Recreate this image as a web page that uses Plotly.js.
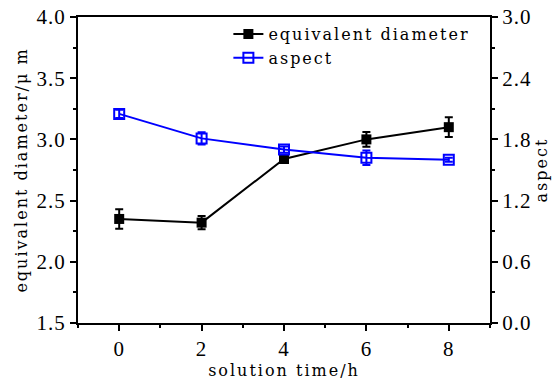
<!DOCTYPE html>
<html>
<head>
<meta charset="utf-8">
<script src="https://cdn.plot.ly/plotly-3.0.1.min.js"></script>
<style>
html,body{margin:0;padding:0;background:#fff;}
#chart{width:555px;height:381px;}
.legendtext, .xtitle, .ytitle, .y2title{letter-spacing:2px;}
.xtick text, .ytick text, .y2tick text{letter-spacing:1px;}
</style>
</head>
<body>
<div id="chart"></div>
<script>
const times = [0, 2, 4, 6, 8];
const diameter = [2.35, 2.32, 2.84, 3.00, 3.10];
const diameterErr = [0.08, 0.055, 0.03, 0.06, 0.08];
const aspect = [2.05, 1.81, 1.70, 1.62, 1.60];
const aspectErr = [0.04, 0.06, 0.03, 0.07, 0.02];
const xTicks = [0, 2, 4, 6, 8];
const yLeftTicks = [1.5, 2.0, 2.5, 3.0, 3.5, 4.0];
const yRightTicks = [0.0, 0.6, 1.2, 1.8, 2.4, 3.0];

const fontFam = 'DejaVu Serif, Liberation Serif, serif';
const tickFam = 'Liberation Serif, Times New Roman, serif';

const traces = [
  {
    x: times, y: diameter, name: 'equivalent diameter', type: 'scatter', mode: 'lines+markers',
    line: {color: '#000000', width: 2},
    marker: {symbol: 'square', size: 10, color: '#000000'},
    error_y: {type: 'data', array: diameterErr, visible: true, color: '#000000', thickness: 2, width: 4}
  },
  {
    x: times, y: aspect, name: 'aspect', type: 'scatter', mode: 'lines+markers', yaxis: 'y2',
    line: {color: '#0000ff', width: 2},
    marker: {symbol: 'square-open', size: 10, color: '#0000ff', line: {width: 2, color: '#0000ff'}},
    error_y: {type: 'data', array: aspectErr, visible: true, color: '#0000ff', thickness: 2, width: 4}
  }
];

const layout = {
  width: 555, height: 381,
  margin: {l: 78, r: 65, t: 17, b: 58},
  paper_bgcolor: '#ffffff', plot_bgcolor: '#ffffff',
  font: {family: fontFam, color: '#000000', size: 16},
  showlegend: true,
  legend: {x: 0.365, y: 1.0, xanchor: 'left', yanchor: 'top', bgcolor: 'rgba(0,0,0,0)',
           font: {family: fontFam, size: 16, color: '#000'}, tracegroupgap: 0, itemwidth: 30},
  xaxis: {
    range: [-1, 9], tickvals: xTicks, ticktext: xTicks.map(String),
    showgrid: false, zeroline: false, showline: true, linecolor: '#000', linewidth: 2, mirror: true,
    ticks: 'outside', ticklen: 6, tickwidth: 2, tickcolor: '#000',
    minor: {dtick: 1, tick0: 1, ticks: 'outside', ticklen: 3, tickwidth: 2, tickcolor: '#000'},
    tickfont: {family: tickFam, size: 21},
    title: {text: 'solution time/h', font: {family: fontFam, size: 16}, standoff: 5}
  },
  yaxis: {
    range: [1.5, 4.0], tickvals: yLeftTicks, ticktext: yLeftTicks.map(v => v.toFixed(1)),
    showgrid: false, zeroline: false, showline: true, linecolor: '#000', linewidth: 2,
    ticks: 'outside', ticklen: 6, tickwidth: 2, tickcolor: '#000',
    minor: {dtick: 0.25, tick0: 1.5, ticks: 'outside', ticklen: 3, tickwidth: 2, tickcolor: '#000'},
    tickfont: {family: tickFam, size: 21},
    title: {text: 'equivalent diameter/\u03bc m', font: {family: fontFam, size: 16}, standoff: 5}
  },
  yaxis2: {
    overlaying: 'y', side: 'right', anchor: 'x',
    range: [0, 3.0], tickvals: yRightTicks, ticktext: yRightTicks.map(v => v.toFixed(1)),
    showgrid: false, zeroline: false, showline: true, linecolor: '#000', linewidth: 2,
    ticks: 'outside', ticklen: 6, tickwidth: 2, tickcolor: '#000',
    minor: {dtick: 0.3, tick0: 0, ticks: 'outside', ticklen: 3, tickwidth: 2, tickcolor: '#000'},
    tickfont: {family: tickFam, size: 21},
    title: {text: 'aspect', font: {family: fontFam, size: 16}, standoff: 5}
  }
};

Plotly.newPlot('chart', traces, layout, {displayModeBar: false, staticPlot: true});
</script>
</body>
</html>
